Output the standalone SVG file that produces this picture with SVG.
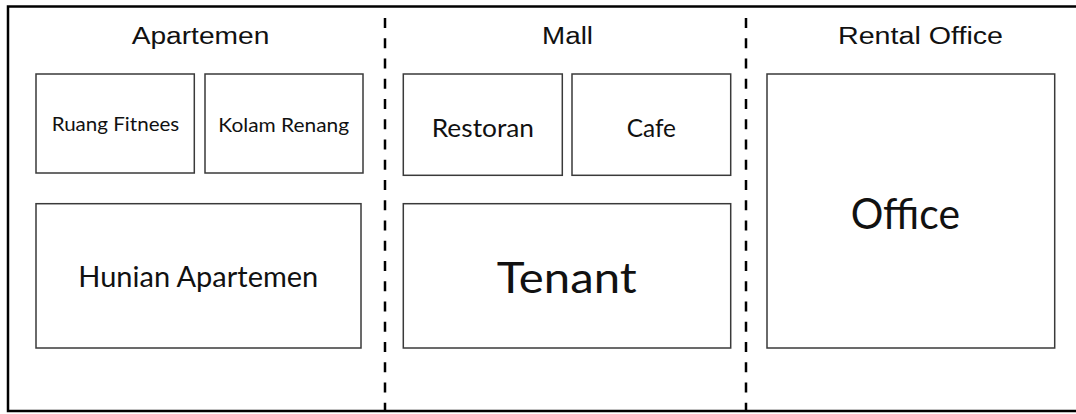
<svg xmlns="http://www.w3.org/2000/svg" width="1076" height="414" viewBox="0 0 1076 414">
  <style>
    .frame { fill: none; stroke: #000; stroke-width: 2.5; }
    .divider { fill: none; stroke: #000; stroke-width: 2.5; stroke-dasharray: 10 10.25; stroke-dashoffset: 10.2; }
    .box { fill: #fff; stroke: #3a3a3a; stroke-width: 1.5; }
    .title { font-family: "Liberation Sans", Arial, sans-serif; font-size: 23.5px; fill: #111; text-anchor: middle; }
    .label { font-family: Lato, "Open Sans", sans-serif; fill: #111; text-anchor: middle; }
  </style>
  <rect width="1076" height="414" fill="#fff"/>

  <!-- outer frame (runs past the right edge) -->
  <path class="frame" d="M1080 6.5 H8 V411 H1080"/>

  <!-- section dividers -->
  <g id="dividers">
    <line class="divider" x1="385" y1="8" x2="385" y2="410"/>
    <line class="divider" x1="746" y1="8" x2="746" y2="410"/>
  </g>

  <!-- section titles -->
  <g id="section-apartemen">
    <text class="title" x="200.5" y="44.3" textLength="137.6" lengthAdjust="spacingAndGlyphs">Apartemen</text>
  </g>
  <g id="section-mall">
    <text class="title" x="567.5" y="44.3" textLength="51" lengthAdjust="spacingAndGlyphs">Mall</text>
  </g>
  <g id="section-rental-office">
    <text class="title" x="920.5" y="44.3" textLength="165" lengthAdjust="spacingAndGlyphs">Rental Office</text>
  </g>

  <!-- Apartemen -->
  <g id="ruang-fitnees">
    <rect class="box" x="36" y="74" width="158.3" height="99"/>
    <text class="label" x="115.5" y="130.7" font-size="18.8" textLength="127.6" lengthAdjust="spacingAndGlyphs">Ruang Fitnees</text>
  </g>
  <g id="kolam-renang">
    <rect class="box" x="205" y="74" width="158" height="99"/>
    <text class="label" x="283.7" y="131.5" font-size="18.8" textLength="130.7" lengthAdjust="spacingAndGlyphs">Kolam Renang</text>
  </g>
  <g id="hunian-apartemen">
    <rect class="box" x="36" y="203.7" width="325" height="144.3"/>
    <text class="label" x="198.3" y="287.3" font-size="28" textLength="240" lengthAdjust="spacingAndGlyphs">Hunian Apartemen</text>
  </g>

  <!-- Mall -->
  <g id="restoran">
    <rect class="box" x="403.3" y="74" width="159" height="101.3"/>
    <text class="label" x="482.9" y="136.7" font-size="25.5" textLength="102.3" lengthAdjust="spacingAndGlyphs">Restoran</text>
  </g>
  <g id="cafe">
    <rect class="box" x="572" y="74" width="158.7" height="101.3"/>
    <text class="label" x="651.3" y="136.7" font-size="25.5" textLength="49.3" lengthAdjust="spacingAndGlyphs">Cafe</text>
  </g>
  <g id="tenant">
    <rect class="box" x="403.3" y="203.7" width="327.4" height="144.3"/>
    <text class="label" x="566.7" y="293.3" font-size="42.7" textLength="140" lengthAdjust="spacingAndGlyphs">Tenant</text>
  </g>

  <!-- Rental Office -->
  <g id="office">
    <rect class="box" x="767" y="74" width="287.7" height="274"/>
    <text class="label" x="905.3" y="229" font-size="42" textLength="109.3" lengthAdjust="spacingAndGlyphs">Office</text>
  </g>
</svg>
